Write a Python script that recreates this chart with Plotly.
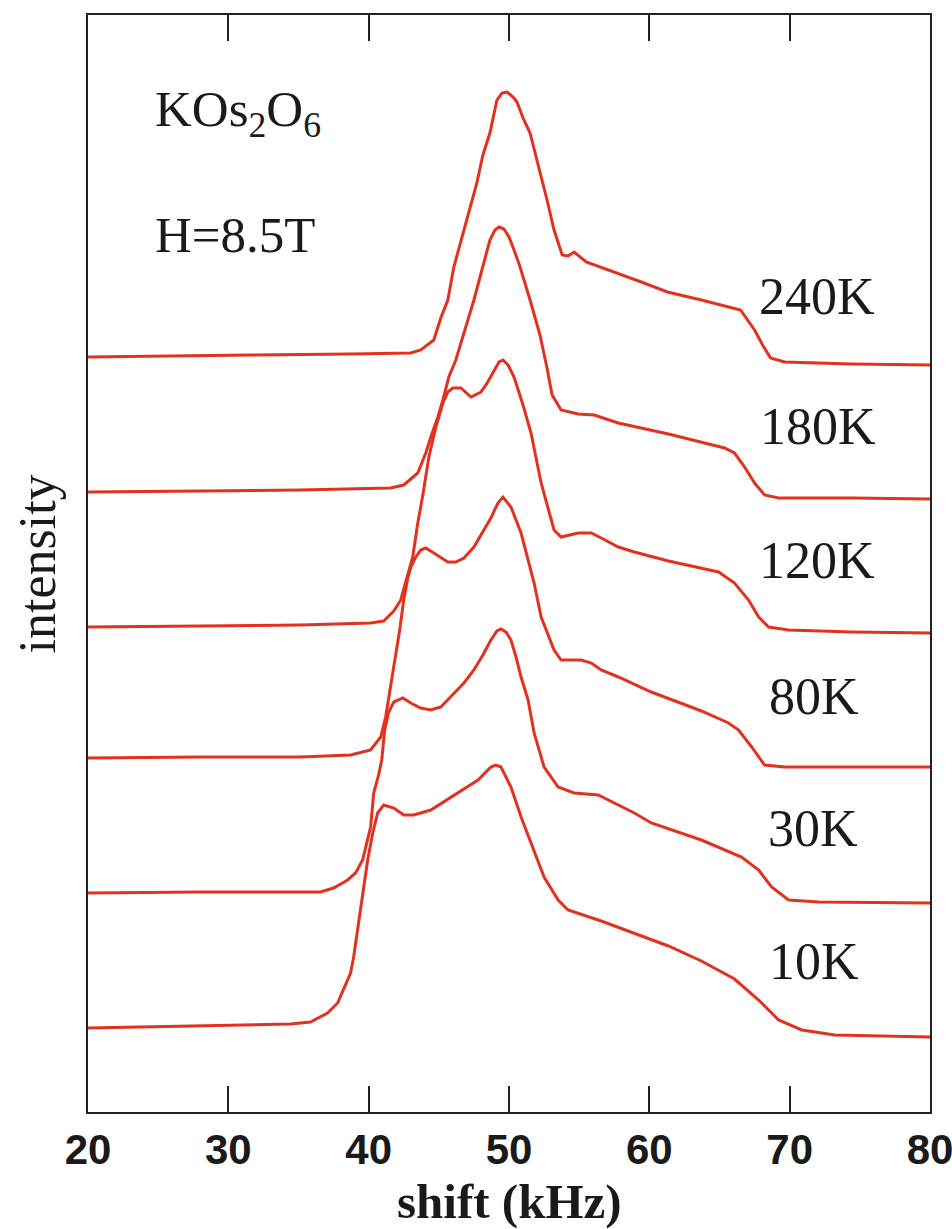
import plotly.graph_objects as go

# ---- data (shift in kHz, intensity in arbitrary units incl. vertical offset) ----
temps = ["240K", "180K", "120K", "80K", "30K", "10K"]

shift_240K = [20.0, 24.43, 31.57, 38.71, 43.0, 43.71, 44.64, 45.14, 45.64, 46.07, 47.07, 47.5, 47.71,
              48.14, 48.64, 49.14, 49.5, 49.86, 50.29, 50.57, 51.0, 51.5, 52.0, 52.71, 53.21, 53.79,
              54.21, 54.64, 55.5, 56.5, 57.71, 59.43, 61.29, 63.71, 66.5, 67.0, 67.5, 68.07, 68.64,
              69.64, 74.43, 80.0]
int_240K = [755, 756, 757, 758, 759, 762, 772, 794, 812, 845, 895, 919, 929, 957, 979, 1012, 1019,
            1020, 1015, 1010, 994, 979, 952, 912, 882, 857, 856, 860, 850, 845, 839, 830, 820, 812,
            802, 792, 782, 767, 754, 750, 748, 747]

shift_180K = [20.0, 28.0, 35.14, 41.57, 42.5, 43.5, 44.07, 44.43, 44.93, 45.29, 45.71, 46.21, 46.86,
              47.5, 48.07, 48.64, 49.0, 49.29, 49.64, 50.0, 50.36, 50.79, 51.5, 52.21, 52.71, 53.07,
              53.71, 54.93, 56.07, 57.79, 61.36, 65.36, 66.07, 66.79, 67.5, 68.21, 69.21, 74.43, 80.0]
int_180K = [620, 621, 622, 624, 627, 639, 659, 675, 695, 712, 735, 752, 782, 812, 842, 872, 882, 885,
            883, 875, 862, 845, 812, 777, 744, 717, 702, 698, 697, 689, 678, 664, 659, 645, 629, 617,
            614, 614, 613]

shift_120K = [20.0, 28.0, 35.14, 40.14, 41.07, 41.79, 42.29, 42.64, 43.14, 43.5, 43.86, 44.29, 44.79,
              45.29, 45.64, 46.0, 46.57, 47.29, 48.0, 48.36, 48.86, 49.29, 49.57, 49.93, 50.36, 51.0,
              51.57, 52.29, 53.21, 53.71, 54.93, 55.86, 56.57, 57.79, 58.93, 61.36, 64.93, 66.07,
              67.07, 67.79, 68.5, 69.93, 74.43, 80.0]
int_120K = [485, 486, 487, 489, 491, 501, 512, 530, 555, 589, 617, 655, 685, 709, 720, 724, 724, 715,
            720, 727, 740, 750, 752, 747, 735, 707, 679, 629, 582, 575, 579, 579, 574, 565, 560, 551,
            540, 529, 512, 495, 485, 482, 480, 479]

shift_80K = [20.0, 28.0, 35.14, 38.71, 40.14, 40.86, 41.21, 41.57, 41.93, 42.21, 42.5, 42.79, 43.0,
             43.36, 43.71, 44.07, 44.64, 45.64, 46.21, 46.79, 47.5, 48.14, 48.71, 49.21, 49.57, 50.14,
             50.86, 51.79, 52.29, 53.21, 53.71, 55.14, 55.86, 56.57, 57.79, 60.14, 63.71, 65.64,
             66.36, 67.29, 68.21, 69.64, 74.43, 80.0]
int_80K = [354, 355, 355, 357, 362, 375, 395, 425, 459, 482, 512, 534, 545, 555, 562, 564, 559, 550,
           550, 554, 565, 580, 594, 609, 615, 605, 579, 529, 495, 462, 452, 452, 449, 442, 435, 420,
           401, 389, 382, 365, 347, 345, 345, 345]

shift_30K = [20.0, 28.0, 36.57, 37.5, 38.5, 39.07, 39.57, 39.93, 40.14, 40.36, 40.71, 40.93, 41.14,
             41.43, 41.79, 42.43, 43.0, 43.71, 44.43, 45.14, 46.07, 46.79, 47.5, 48.14, 48.71, 49.14,
             49.43, 49.79, 50.14, 50.5, 50.86, 51.36, 51.79, 52.5, 53.5, 54.64, 56.36, 58.93, 60.14,
             63.71, 66.57, 67.79, 68.71, 69.93, 72.07, 80.0]
int_30K = [219, 220, 220, 224, 232, 239, 252, 272, 285, 319, 337, 352, 382, 400, 410, 414, 409, 404,
           402, 405, 419, 429, 442, 457, 472, 481, 483, 480, 472, 455, 435, 412, 379, 345, 325, 319,
           317, 299, 289, 272, 255, 242, 225, 212, 210, 209]

shift_10K = [20.0, 28.0, 34.43, 35.86, 37.07, 37.79, 38.21, 38.71, 38.93, 39.29, 39.64, 39.93, 40.29,
             40.64, 41.07, 41.79, 42.5, 43.21, 44.43, 46.36, 47.79, 48.71, 49.07, 49.43, 50.14, 50.86,
             51.79, 52.5, 53.5, 54.21, 56.57, 58.93, 61.36, 63.71, 66.07, 67.79, 69.21, 70.86, 73.21,
             80.0]
int_10K = [84, 86, 88, 90, 99, 109, 122, 139, 155, 189, 222, 252, 279, 299, 307, 304, 297, 297, 302,
           319, 332, 345, 347, 345, 325, 295, 262, 235, 212, 202, 191, 179, 166, 151, 133, 112, 92,
           82, 77, 75]

label_x = [71.93, 72.0, 71.93, 71.71, 71.64, 71.71]
label_y = [816, 686, 552, 416, 284, 151]

x_ticks = [20, 30, 40, 50, 60, 70, 80]

series = [
    (shift_240K, int_240K), (shift_180K, int_180K), (shift_120K, int_120K),
    (shift_80K, int_80K), (shift_30K, int_30K), (shift_10K, int_10K),
]

RED = "#e2321f"
SERIF = "Liberation Serif, Times New Roman, serif"
SANS = "Liberation Sans, Arial, sans-serif"

fig = go.Figure()
for name, (xs, ys) in zip(temps, series):
    fig.add_trace(go.Scatter(x=xs, y=ys, mode="lines", name=name,
                             line=dict(color=RED, width=3), showlegend=False))

for name, lx, ly in zip(temps, label_x, label_y):
    fig.add_annotation(x=lx, y=ly, xref="x", yref="y", text=name, showarrow=False,
                       font=dict(family=SERIF, size=52, color="#1a1a1a"),
                       xanchor="center", yanchor="middle")

fig.add_annotation(x=0.0772, y=0.9105, xref="paper", yref="paper",
                   text="KOs<sub>2</sub>O<sub>6</sub>", showarrow=False,
                   font=dict(family=SERIF, size=51, color="#1a1a1a"),
                   xanchor="left", yanchor="middle")
fig.add_annotation(x=0.0772, y=0.799, xref="paper", yref="paper",
                   text="H=8.5T", showarrow=False,
                   font=dict(family=SERIF, size=51, color="#1a1a1a"),
                   xanchor="left", yanchor="middle")

fig.add_annotation(x=-0.0594, y=0.50, xref="paper", yref="paper",
                   text="intensity", showarrow=False, textangle=-90,
                   font=dict(family=SERIF, size=52, color="#1a1a1a"),
                   xanchor="center", yanchor="middle")
fig.add_annotation(x=0.5, y=-0.082, xref="paper", yref="paper",
                   text="shift (kHz)", showarrow=False,
                   font=dict(family=SERIF, size=49, color="#1a1a1a", weight="bold"),
                   xanchor="center", yanchor="middle")

fig.update_layout(
    width=952, height=1229,
    margin=dict(l=88, r=22, t=15, b=117, autoexpand=False),
    plot_bgcolor="white", paper_bgcolor="white",
)
fig.update_xaxes(
    range=[20, 80], tickvals=x_ticks, ticktext=[str(v) for v in x_ticks],
    ticks="inside", ticklen=26, tickwidth=1.5, tickcolor="#222",
    showline=True, linewidth=1.5, linecolor="#222", mirror="ticks",
    showgrid=False, zeroline=False, automargin=False, ticklabeloverflow="allow",
    tickfont=dict(family=SANS, size=42, color="#1a1a1a", weight="bold"),
)
fig.update_yaxes(
    range=[0, 1097], showticklabels=False, ticks="",
    showline=True, linewidth=1.5, linecolor="#222", mirror=True,
    showgrid=False, zeroline=False, automargin=False,
)

# remove the browser's default 8px body margin so the 952x1229 figure fills the window exactly
fig.write_html("out.html",
               config={"displayModeBar": False},
               post_script="document.body.style.margin='0';document.body.style.overflow='hidden';")
